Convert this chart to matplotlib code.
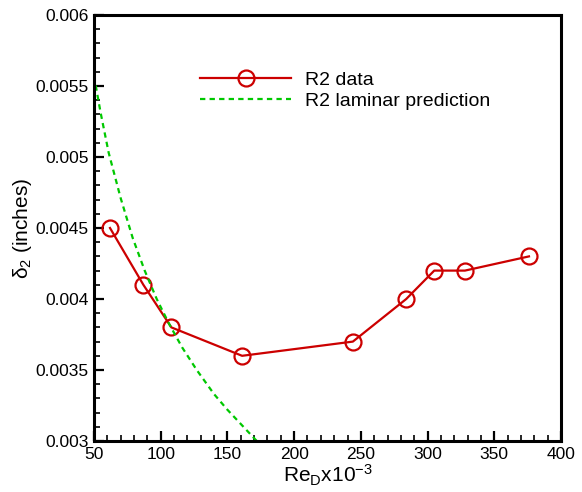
import matplotlib.pyplot as plt
from matplotlib.ticker import MultipleLocator

plt.rcParams['font.family'] = ['Liberation Sans', 'DejaVu Sans']
plt.rcParams['mathtext.fontset'] = 'custom'
plt.rcParams['mathtext.rm'] = 'Liberation Sans'
plt.rcParams['mathtext.it'] = 'Liberation Sans:italic'

# R2 measurements
re_data = [62, 87, 108, 161, 244, 284, 305, 328, 376]
delta_data = [0.0045, 0.0041, 0.0038, 0.0036, 0.0037, 0.0040, 0.0042, 0.0042, 0.0043]

# laminar prediction curve
re_lam = [50, 55, 61, 70, 79, 88, 97, 106, 116, 127, 140, 150, 160, 172]
delta_lam = [0.00557, 0.00531, 0.00503, 0.00471, 0.00443, 0.00420, 0.00400,
             0.00383, 0.00366, 0.00350, 0.00333, 0.00322, 0.00312, 0.00300]

red = '#cc0000'
green = '#00c800'

fig = plt.figure(figsize=(5.82, 4.92), dpi=100)
ax = fig.add_axes([94/582, 1 - 441/492, 467/582, 426/492])

ax.plot(re_data, delta_data, color=red, lw=1.6, marker='o', ms=11.5,
        mfc='none', mec=red, mew=1.6, label='R2 data')
ax.plot(re_lam, delta_lam, color=green, lw=1.6, dashes=(2.4, 1.9),
        label='R2 laminar prediction')

ax.set_xlim(50, 400)
ax.set_ylim(0.003, 0.006)
ax.xaxis.set_major_locator(MultipleLocator(50))
ax.xaxis.set_minor_locator(MultipleLocator(10))
ax.yaxis.set_major_locator(MultipleLocator(0.0005))
ax.yaxis.set_minor_locator(MultipleLocator(0.0001))
ax.yaxis.set_major_formatter(plt.FuncFormatter(lambda v, p: ('%.4f' % v).rstrip('0')))

for s in ax.spines.values():
    s.set_linewidth(2.2)
ax.tick_params(which='both', direction='in', top=False, right=False,
               labelsize=12.5, pad=4)
ax.tick_params(which='major', length=7.5, width=1.6)
ax.tick_params(which='minor', length=4, width=1.2)

ax.set_xlabel('Re$_\\mathrm{D}$x10$^{-3}$', fontsize=15, labelpad=1)
ax.set_ylabel('δ$_2$ (inches)', fontsize=15, labelpad=1)

ax.legend(loc='upper left', bbox_to_anchor=(0.206, 0.891), frameon=False,
          fontsize=14, borderpad=0, handlelength=4.7, handletextpad=0.7,
          numpoints=1, labelspacing=0.2)

fig.savefig('out.png', dpi=100)
